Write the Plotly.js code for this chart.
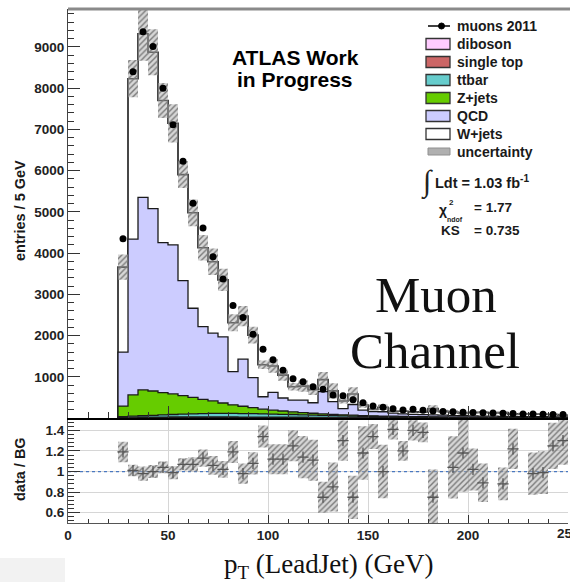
<!DOCTYPE html>
<html><head><meta charset="utf-8">
<script src="https://cdn.plot.ly/plotly-3.0.1.min.js"></script>
<style>html,body{margin:0;padding:0;overflow:hidden;background:#fff}</style>
</head><body>
<div id="chart" style="width:570px;height:582px"></div>
<script>
// ---- data ----
const binLow = [25,30,35,40,45,50,55,60,65,70,75,80,85,90,95,100,105,110,115,120,125,130,135,140,145,150,155,160,165,170,175,180,185,190,195,200,205,210,215,220,225,230,235,240,245];
const binWidth = 5;
const diboson = [3,5,6,7,7,8,8,8,8,8, 8,8,7,7,7,7,6,6,6,5, 5,5,4,4,4,3,3,3,3,3, 2,2,2,2,2,2,2,1,1,1, 1,1,1,1,1];
const singleTop = [6,10,12,14,15,16,17,17,17,17, 17,16,16,15,15,14,13,12,12,11, 10,9,9,8,7,7,6,6,5,5, 5,4,4,4,3,3,3,3,2,2, 2,2,2,2,2];
const ttbar = [21,30,37,44,53,61,70,75,80,85, 85,86,85,83,78,74,71,67,60,54, 48,42,37,33,29,26,23,20,18,15, 14,13,11,9,9,8,7,7,7,6, 5,5,4,4,3];
const zjets = [260,515,625,590,540,498,447,402,348,303, 254,210,177,145,115,95,80,65,52,45, 37,32,28,23,20,17,15,13,11,10, 9,8,7,7,6,5,4,4,4,4, 4,3,3,2,3];
const qcd = [1310,3780,4670,4425,3640,3615,2790,2160,1765,1645, 1605,805,1145,730,300,430,315,285,305,255, 540,310,150,260,130,105,105,75,65,55, 50,48,46,38,35,32,29,30,26,25, 23,21,20,19,16];
const wjets = [2060,3890,3970,3790,3445,2950,2570,2315,1910,1730, 1380,1185,1040,1030,775,640,555,323,338,314, 290,260,185,255,125,55,110,45,62,60, 58,152,90,84,64,82,95,75,91,52, 65,65,61,57,42];
const muons2011 = [4350,8400,9370,9010,8000,7110,6230,5210,4610,3910, 3370,2730,2440,2030,1670,1410,1160,950,880,760, 700,560,540,440,370,290,260,225,195,210, 190,170,160,150,140,135,125,120,115,110, 100,95,90,85,85];
const ratioDataBG = [1.19,1.01,0.98,1.00,1.04,0.99,1.07,1.07,1.13,1.06, 1.02,1.19,0.98,1.08,1.34,1.12,1.12,1.25,1.14,1.11, 0.75,0.85,1.30,0.75,1.18,1.34,1.00,1.41,1.20,1.40, 1.38,0.75,null,1.04,1.18,1.02,0.89,null,0.88,1.22, null,0.98,0.99,1.25,1.30];
const relUnc = [0.084,0.055,0.07,0.063,0.055,0.065,0.055,0.065,0.075,0.085, 0.08,0.09,0.10,0.10,0.08,0.13,0.13,0.12,0.18,0.18, 0.20,0.28,0.15,0.28,0.22,0.09,0.26,0.07,0.08,0.07, 0.07,0.36,0.25,0.29,0.32,0.20,0.21,0.25,0.18,0.16, 0.30,0.21,0.21,0.18,0.18];
const legendLabels = ['muons 2011','diboson','single top','ttbar','Z+jets','QCD','W+jets','uncertainty'];
const xTicks = [0,50,100,150,200,250];
const yTicks = [1000,2000,3000,4000,5000,6000,7000,8000,9000];
const rTicks = [0.6,0.8,1,1.2,1.4];
const rTickText = ['0.6','0.8','1','1.2','1.4'];

// ---- build stacks ----
const n = binLow.length;
const samples = [diboson, singleTop, ttbar, zjets, qcd, wjets];
const colors = ['#ffccff','#cc6666','#66cccc','#66cc00','#ccccff','#ffffff'];
const cum = [];
let run = new Array(n).fill(0);
samples.forEach(s => { run = run.map((v,i)=>v+s[i]); cum.push(run.slice()); });
const total = cum[cum.length-1];
const centers = binLow.map(b => b + binWidth/2);

function stepTrace(vals, fill, w) {
  const x = [binLow[0]], y = [0];
  for (let i=0;i<n;i++){ x.push(binLow[i]); y.push(vals[i]); }
  x.push(binLow[n-1]+binWidth); y.push(vals[n-1]);
  return {type:'scatter', mode:'lines', x, y, xaxis:'x2', yaxis:'y',
    line:{shape:'hv', color:'#1a1a1a', width:w}, fill:'tozeroy', fillcolor:fill, hoverinfo:'skip'};
}
function boxes(lo, hi, xa, ya) {
  const x=[], y=[];
  for (let i=0;i<n;i++){
    if (lo[i]==null || hi[i]==null) continue;
    const a=binLow[i], b=binLow[i]+binWidth;
    x.push(a,b,b,a,a,null); y.push(lo[i],lo[i],hi[i],hi[i],lo[i],null);
  }
  return {type:'scatter', mode:'lines', x, y, xaxis:xa, yaxis:ya, fill:'toself',
    line:{width:0, color:'rgba(0,0,0,0)'}, fillcolor:'rgba(170,170,170,0.55)',
    fillpattern:{shape:'/', fgcolor:'#7a7a7a', bgcolor:'rgba(175,175,175,0.5)', size:4, solidity:0.35},
    hoverinfo:'skip'};
}

const traces = [];
for (let k=cum.length-1;k>=0;k--) traces.push(stepTrace(cum[k], colors[k], k===cum.length-1 ? 1.6 : 1.3));
traces.push(boxes(total.map((t,i)=>t*(1-relUnc[i])), total.map((t,i)=>t*(1+relUnc[i])), 'x2', 'y'));
traces.push({type:'scatter', mode:'markers', x:centers, y:muons2011, xaxis:'x2', yaxis:'y',
  marker:{symbol:'circle', size:7, color:'#000'}, hoverinfo:'skip'});
traces.push(boxes(ratioDataBG.map((r,i)=>r==null?null:r*(1-relUnc[i])), ratioDataBG.map((r,i)=>r==null?null:r*(1+relUnc[i])), 'x', 'y2'));
traces.push({type:'scatter', mode:'markers', x:centers, y:ratioDataBG, xaxis:'x', yaxis:'y2',
  marker:{symbol:'cross-thin', size:8, color:'#555', line:{color:'#555', width:1.3}}, hoverinfo:'skip'});

// ---- layout helpers (pixel -> paper) ----
const L=68, W=500, T=9, H=514;
const X = px => (px-L)/W;
const Y = py => (T+H-py)/H;
const split = (523-418)/H;

const sans = 'Liberation Sans, Arial, Helvetica, sans-serif';
const serif = 'Liberation Serif, Times New Roman, serif';
const tickFont = {family:sans, size:13.5, color:'#222', weight:'bold'};

const ann = [];
function txt(text, px, py, size, opts) {
  ann.push(Object.assign({text, x:X(px), y:Y(py), xref:'paper', yref:'paper', showarrow:false,
    xanchor:'center', yanchor:'middle', font:{family:sans, size, color:'#1a1a1a', weight:'bold'}}, opts||{}));
}
txt('entries / 5 GeV', 20, 211, 14.5, {textangle:-90});
txt('data / BG', 20, 469, 14.5, {textangle:-90});
txt('p<sub>T</sub> (LeadJet) (GeV)', 328, 566, 27, {font:{family:serif, size:27, color:'#111'}});
txt('Muon', 436, 295, 51, {font:{family:serif, size:51, color:'#111'}});
txt('Channel', 435, 351, 51, {font:{family:serif, size:51, color:'#111'}});
txt('ATLAS Work', 295, 57, 21, {font:{family:sans, size:21, color:'#000', weight:'bold'}});
txt('in Progress', 295, 80, 21, {font:{family:sans, size:21, color:'#000', weight:'bold'}});
// last x tick label, cut by the right edge as in the reference
txt(String(xTicks[xTicks.length-1]), 568, 533, 13.5, {font:tickFont});

const legRows = [26, 44, 62, 80, 98, 116, 134, 152];
legendLabels.forEach((lab,i)=> txt(lab, 455, legRows[i], 14, {xanchor:'left'}));
txt('\u222B', 427, 182, 30, {font:{family:serif, size:30, color:'#222'}});
txt('Ldt = 1.03 fb<sup>-1</sup>', 433, 182, 14.5, {xanchor:'left'});
txt('\u03C7', 437, 210, 14, {xanchor:'left'});
txt('2', 447, 202, 8, {xanchor:'left'});
txt('ndof', 445, 219, 7, {xanchor:'left'});
txt('= 1.77', 472, 208, 13.5, {xanchor:'left'});
txt('KS', 439, 230, 13.5, {xanchor:'left'});
txt('= 0.735', 472, 230, 13.5, {xanchor:'left'});

const shapes = [];
shapes.push({type:'line', xref:'paper', yref:'paper', x0:0, x1:1.02, y0:1, y1:1, line:{color:'#8a8a8a', width:3}});
shapes.push({type:'line', xref:'x', yref:'y2', x0:0, x1:250, y0:1, y1:1, layer:'between', line:{color:'#4a78c0', width:1.3, dash:'dot'}});
shapes.push({type:'rect', xref:'paper', yref:'paper', x0:X(0), x1:X(65), y0:Y(582), y1:Y(558), line:{width:0}, fillcolor:'#f2f2f2', layer:'below'});
shapes.push({type:'line', xref:'paper', yref:'paper', x0:X(428), x1:X(450), y0:Y(26), y1:Y(26), line:{color:'#000', width:1.5}});
shapes.push({type:'circle', xref:'paper', yref:'paper', x0:X(438.5), x1:X(444.5), y0:Y(29), y1:Y(23), fillcolor:'#000', line:{color:'#000', width:1}});
const legColors = ['#ffccff','#cc6666','#66cccc','#66cc00','#ccccff','#ffffff'];
legColors.forEach((c,i)=>{
  const yc = legRows[i+1];
  shapes.push({type:'rect', xref:'paper', yref:'paper', x0:X(426), x1:X(450), y0:Y(yc+5.5), y1:Y(yc-5.5), fillcolor:c, line:{color:'#333', width:1.3}});
});
shapes.push({type:'rect', xref:'paper', yref:'paper', x0:X(428), x1:X(450), y0:Y(155), y1:Y(148), fillcolor:'#b0b0b0', line:{color:'#909090', width:1}});

const layout = {
  width:570, height:582, margin:{l:L, r:2, t:T, b:59}, paper_bgcolor:'#fff', plot_bgcolor:'rgba(0,0,0,0)',
  showlegend:false, font:{family:sans},
  xaxis:{domain:[0,1], range:[0,250], anchor:'y2', tickmode:'array', tickvals:xTicks, ticks:'inside', ticklen:8, tickcolor:'#333',
    minor:{tickmode:'linear', tick0:0, dtick:10, ticks:'inside', ticklen:4, tickcolor:'#333'},
    showline:true, linecolor:'#555', linewidth:1, showgrid:true, gridcolor:'#d6d6d6', zeroline:false, tickfont:tickFont},
  xaxis2:{matches:'x', anchor:'y', range:[0,250], showticklabels:false, tickmode:'array', tickvals:xTicks, ticks:'inside', ticklen:12, tickcolor:'#333',
    minor:{tickmode:'linear', tick0:0, dtick:10, ticks:'inside', ticklen:6, tickcolor:'#333'},
    showline:true, linecolor:'#000', linewidth:2, showgrid:false, zeroline:false},
  yaxis:{domain:[split,1], range:[0,9920], tickmode:'array', tickvals:yTicks, ticks:'inside', ticklen:12, tickcolor:'#333',
    minor:{tickmode:'linear', tick0:0, dtick:200, ticks:'inside', ticklen:6, tickcolor:'#333'},
    showline:true, linecolor:'#444', linewidth:1, showgrid:false, zeroline:false, tickfont:tickFont},
  yaxis2:{domain:[0,split], range:[0.5,1.52], tickmode:'array', tickvals:rTicks, ticktext:rTickText, ticks:'inside', ticklen:12, tickcolor:'#333',
    minor:{tickmode:'linear', tick0:0.6, dtick:0.04, ticks:'inside', ticklen:6, tickcolor:'#333'},
    showline:true, linecolor:'#555', linewidth:1, showgrid:true, gridcolor:'#d6d6d6', zeroline:false, tickfont:tickFont},
  annotations:ann, shapes:shapes
};
Plotly.newPlot('chart', traces, layout, {staticPlot:true, displayModeBar:false});
</script>
</body></html>
